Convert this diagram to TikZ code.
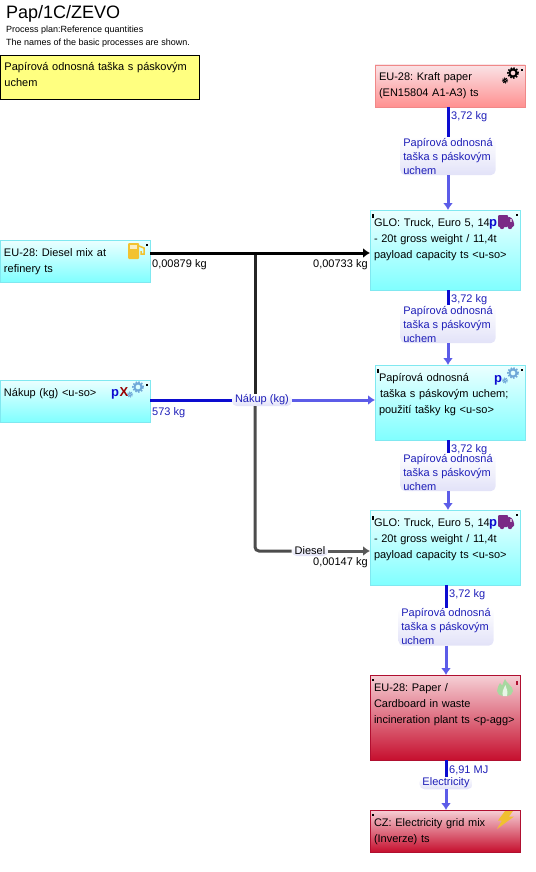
\documentclass[tikz,border=0pt]{standalone}
\usepackage{fontspec}
\setmainfont{Liberation Sans}
\usetikzlibrary{positioning,arrows.meta}
\definecolor{cyanedge}{HTML}{80E8F0}
\definecolor{cyantop}{HTML}{ECFFFF}
\definecolor{cyanlow}{HTML}{80FFFF}
\definecolor{redtop}{HTML}{F6D0D6}
\definecolor{redlow}{HTML}{C60F2E}
\definecolor{rededge}{HTML}{B00F30}
\definecolor{kraftlow}{HTML}{FF9090}
\definecolor{kraftedge}{HTML}{F08888}
\definecolor{noteyellow}{HTML}{FFFF80}
\definecolor{flowdark}{HTML}{0C0CD0}
\definecolor{flowlight}{HTML}{5C5CE8}
\definecolor{flowtext}{HTML}{1E1EB8}
\definecolor{flowpale}{HTML}{E2E2F8}
\definecolor{truckpurple}{HTML}{7A2A86}
\definecolor{gearblue}{HTML}{6FA8D8}
\definecolor{pumpgold}{HTML}{F2C230}
\definecolor{flamegreen}{HTML}{A8D8A0}
\definecolor{boltgold}{HTML}{F0C030}
\frenchspacing

\begin{document}
\begin{tikzpicture}[
			x=1pt, y=1pt,
			procbox/.style={draw=cyanedge, top color=cyantop, bottom color=cyanlow, minimum width=150pt, outer sep=0pt, inner xsep=4pt, inner ysep=5pt, text width=142pt, align=left, font=\fontsize{11}{16}\selectfont, text height=8pt},
			agbox/.style={procbox, draw=rededge, top color=redtop, bottom color=redlow},
			kraftbox/.style={procbox, draw=kraftedge, top color=redtop!60, bottom color=kraftlow},
			flowbox/.style={rounded corners=5pt, top color=white, bottom color=flowpale, inner xsep=3pt, inner ysep=1pt, outer sep=0pt, text=flowtext, align=left, font=\fontsize{11}{14}\selectfont},
			qty/.style={anchor=west, inner sep=0pt, text=flowtext, font=\fontsize{11}{13}\selectfont},
			blackqty/.style={qty, text=black},
			outflow/.style={flowdark, line width=3pt},
			inflow/.style={flowlight, line width=3pt, -{Latex[length=7pt,width=10pt]}},
			dieselflow/.style={line width=3pt},
			iconp/.style={anchor=base, inner sep=0pt, text=flowdark, font=\fontsize{13}{13}\bfseries\selectfont},
			gearicon/.pic={
				\draw[pic actions, line width=2pt, fill=none] (0,0) circle (3.6pt);
				\draw[pic actions, line width=1.6pt, dash pattern=on 1.5pt off 1.5pt, fill=none] (0,0) circle (5.2pt);
				\draw[pic actions, line width=1.2pt, fill=none] (-8,-7.5) circle (1.6pt);
				\draw[pic actions, line width=1pt, dash pattern=on 1pt off 1pt, fill=none] (-8,-7.5) circle (2.6pt);
			},
			truckicon/.pic={
				\fill[truckpurple, rounded corners=1pt] (-8,-5) rectangle (2,7);
				\fill[truckpurple, rounded corners=1.5pt] (1,-5) -- (1,5) -- (5,5) -- (8,0) -- (8,-5) -- cycle;
				\fill[truckpurple] (-4,-5) circle (2.2pt) (4,-5) circle (2.2pt);
				\fill[white!60!truckpurple] (4,0) rectangle (6,3);
			},
			pumpicon/.pic={
				\fill[pumpgold, rounded corners=1pt] (-8,-8) rectangle (3,8);
				\fill[white!70!pumpgold] (-6,2) rectangle (1,6);
				\draw[pumpgold, line width=1.5pt] (3,5) -- (8,3) -- (8,-3) -- (5,-3) -- (5,0);
			},
			flameicon/.pic={
				\fill[flamegreen] (0,9) .. controls (1,5) and (8,2) .. (8,-3) .. controls (8,-6) and (5,-8) .. (2,-8) -- (-2,-8) .. controls (-5,-8) and (-8,-6) .. (-8,-3) .. controls (-8,0) and (-6,3) .. (-5,5) .. controls (-4,3) and (-3,3) .. (-2.5,3) .. controls (-2,5) and (-1,7) .. (0,9);
				\fill[white!75!flamegreen] (0.5,3) .. controls (1,0) and (3.5,-3) .. (2,-8) -- (-2,-8) .. controls (-3.5,-4) and (-1.5,-1) .. (0.5,3);
			},
			bolticon/.pic={
				\fill[boltgold] (0,9) -- (8,9) -- (4,3.5) -- (9,3.5) -- (-8,-9) -- (-3,-0.5) -- (-7,-0.5) -- cycle;
			},
			dots/.style={fill=black, minimum size=2.4pt, inner sep=0pt}
		]
		\useasboundingbox (0,0) rectangle (535,-872);

		% Header
		\node[anchor=west, inner sep=0pt, font=\fontsize{18}{20}\selectfont] (title) at (6,-14) {Pap/1C/ZEVO};
		\node[anchor=west, inner sep=0pt, font=\fontsize{9}{11}\selectfont] (plan) at (6,-30.5) {Process plan:Reference quantities};
		\node[anchor=west, inner sep=0pt, font=\fontsize{9}{11}\selectfont] (names) at (6,-43) {The names of the basic processes are shown.};
		\node[draw=black, fill=noteyellow, anchor=north west, minimum width=199pt, minimum height=44pt, outer sep=0pt, inner xsep=4pt, inner ysep=8pt, text width=191pt, align=left, font=\fontsize{11}{16}\selectfont, text height=8pt, text depth=20pt] (note) at (0.5,-55) {Papírová odnosná taška s páskovým\\uchem};

		% Main column
		\node[kraftbox, anchor=north west, minimum height=42pt, text depth=18pt] (kraft) at (375,-65) {EU-28: Kraft paper\\(EN15804 A1-A3) ts};
		\node[procbox, below=103pt of kraft, xshift=-5pt, minimum height=80pt, text depth=56pt] (truckone) {GLO: Truck, Euro 5, 14\\- 20t gross weight / 11,4t\\payload capacity ts <u-so>};
		\node[procbox, below=75pt of truckone, xshift=5pt, minimum height=75pt, text depth=51pt] (paperuse) {Papírová odnosná\\\hspace*{1pt}taška s páskovým uchem;\\použití tašky kg <u-so>};
		\node[procbox, below=70pt of paperuse, xshift=-5pt, minimum height=75pt, text depth=51pt] (trucktwo) {GLO: Truck, Euro 5, 14\\- 20t gross weight / 11,4t\\payload capacity ts <u-so>};
		\node[agbox, below=90pt of trucktwo, minimum height=85pt, text depth=61pt] (incin) {EU-28: Paper /\\Cardboard in waste\\incineration plant ts <p-agg>};
		\node[agbox, below=50pt of incin, minimum height=42pt, text depth=18pt] (grid) {CZ: Electricity grid mix\\(Inverze) ts};

		% Left column
		\node[procbox, anchor=north west, minimum height=42pt, text depth=18pt] (diesel) at (0,-240) {EU-28: Diesel mix at\\refinery ts};
		\node[procbox, below=98pt of diesel, minimum height=42pt, text depth=18pt] (nakup) {Nákup (kg) <u-so>};

		% Flow labels
		\node[flowbox, below=30pt of kraft, xshift=-2pt] (flowone) {Papírová odnosná\\taška s páskovým\\uchem};
		\node[flowbox, below=15pt of truckone, xshift=3pt] (flowtwo) {Papírová odnosná\\taška s páskovým\\uchem};
		\node[flowbox, below=13pt of paperuse, xshift=-2pt] (flowthree) {Papírová odnosná\\taška s páskovým\\uchem};
		\node[flowbox, below=22.5pt of trucktwo, xshift=1pt] (flowfour) {Papírová odnosná\\taška s páskovým\\uchem};
		\node[flowbox, below=17pt of incin, xshift=1pt] (flowpower) {Electricity};
		\node[flowbox, right=82pt of nakup, yshift=1pt] (flowbuy) {Nákup (kg)};
		\node[flowbox, text=black] (flowdiesel) at (310,-551) {Diesel};
		\coordinate (branch) at (255,-253);

		% Arrows
		\draw[outflow] (kraft.south -| flowone) -- (flowone);
		\draw[inflow] (flowone) -- (flowone |- truckone.north);
		\draw[outflow] (truckone.south -| flowtwo) -- (flowtwo);
		\draw[inflow] (flowtwo) -- (flowtwo |- paperuse.north);
		\draw[outflow] (paperuse.south -| flowthree) -- (flowthree);
		\draw[inflow] (flowthree) -- (flowthree |- trucktwo.north);
		\draw[outflow] (trucktwo.south -| flowfour) -- (flowfour);
		\draw[inflow] (flowfour) -- (flowfour |- incin.north);
		\draw[outflow] (incin.south -| flowpower) -- (flowpower);
		\draw[inflow] (flowpower) -- (flowpower |- grid.north);

		% Diesel lines
		\draw[dieselflow, black!85] (branch) -- (branch |- flowbuy.north);
		\draw[dieselflow, black!70, rounded corners=4pt] (branch |- flowbuy.south) |- (flowdiesel);
		\draw[dieselflow, black, -{Latex[length=7pt,width=10pt]}] (branch -| diesel.east) -- (branch -| truckone.west);
		\draw[dieselflow, black!65, -{Latex[length=7pt,width=10pt]}] (flowdiesel) -- (flowdiesel -| trucktwo.west);
		\draw[outflow] (flowbuy -| nakup.east) -- (flowbuy);
		\draw[inflow] (flowbuy) -- (flowbuy -| paperuse.west);

		% Quantities
		\node[qty] (qtyone) at (451,-117) {3,72 kg};
		\node[qty] (qtytwo) at (451,-300) {3,72 kg};
		\node[qty] (qtythree) at (451,-450) {3,72 kg};
		\node[qty] (qtyfour) at (449,-595) {3,72 kg};
		\node[qty] (qtypower) at (449,-770) {6,91 MJ};
		\node[qty] (qtybuy) at (152,-413) {573 kg};
		\node[blackqty] (qtydiesel) at (152,-265) {0,00879 kg};
		\node[blackqty] (qtytruckone) at (313,-265) {0,00733 kg};
		\node[blackqty] (qtytrucktwo) at (313,-563) {0,00147 kg};

		% Icons
		\pic[black] at (513,-73) {gearicon};
		\pic at (506,-222) {truckicon};
		\pic at (506,-522) {truckicon};
		\pic[gearblue] at (513,-373) {gearicon};
		\pic[gearblue] at (138,-387) {gearicon};
		\pic at (136,-251) {pumpicon};
		\pic at (505,-688) {flameicon};
		\pic at (505,-820) {bolticon};
		\node[iconp] (ptruckone) at (493,-226) {p};
		\node[iconp] (ptrucktwo) at (493,-526) {p};
		\node[iconp] (ppaper) at (498,-382) {p};
		\node[iconp] (pnakup) at (115,-396) {p};
		\node[iconp, text=red!60!black] (xnakup) at (124,-396) {X};

		% Corner dots
		\node[dots] (dotkraft) at (522,-70) {};
		\node[dots] (dottruckone) at (517,-215) {};
		\node[dots, minimum height=4pt] (dottruckonel) at (373,-216) {};
		\node[dots] (dotpaper) at (522,-370) {};
		\node[dots, minimum height=4pt] (dotpaperl) at (378,-371) {};
		\node[dots] (dottrucktwo) at (517,-515) {};
		\node[dots, minimum height=4pt] (dottrucktwol) at (373,-518) {};
		\node[dots] (dotdiesel) at (147,-245) {};
		\node[dots] (dotnakup) at (147,-385) {};
		\node[dots, minimum height=4pt, fill=rededge] (dotincin) at (517,-683) {};
		\node[dots] (dotincinl) at (373,-680) {};
		\node[dots] (dotgrid) at (373,-815) {};
	\end{tikzpicture}
\end{document}
